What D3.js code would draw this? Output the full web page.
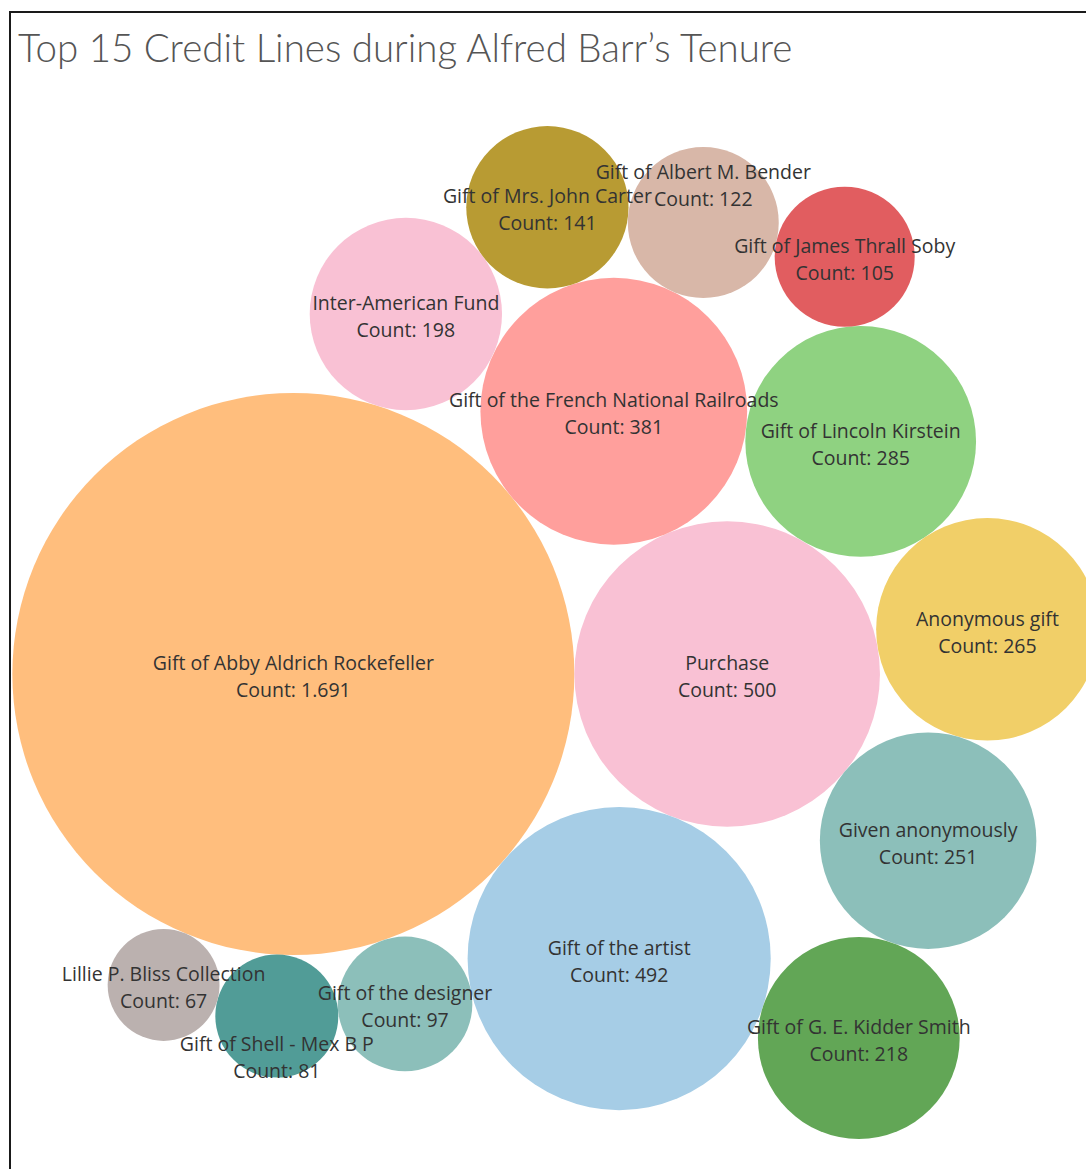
<!DOCTYPE html>
<html>
<head>
<meta charset="utf-8">
<script src="https://cdn.jsdelivr.net/npm/d3@7"></script>
<style>
  body { margin: 0; background: #fff; }
  svg { display: block; }
</style>
</head>
<body>
<svg id="chart" width="1086" height="1169"></svg>
<script>
// Credit lines, ordered by number of acquired works
const creditLines = [
  "Gift of Abby Aldrich Rockefeller",
  "Purchase",
  "Gift of the artist",
  "Gift of the French National Railroads",
  "Gift of Lincoln Kirstein",
  "Anonymous gift",
  "Given anonymously",
  "Gift of G. E. Kidder Smith",
  "Inter-American Fund",
  "Gift of Mrs. John Carter",
  "Gift of Albert M. Bender",
  "Gift of James Thrall Soby",
  "Gift of the designer",
  "Gift of Shell - Mex B P",
  "Lillie P. Bliss Collection"
];
const counts = [1691, 500, 492, 381, 285, 265, 251, 218, 198, 141, 122, 105, 97, 81, 67];
const bubbleColors = [
  "#FFBE7D", "#F9C1D4", "#A6CDE6", "#FF9F9C", "#8FD281",
  "#F1CF68", "#8CBFBA", "#62A656", "#F9C1D4", "#B89B33",
  "#D8B7A8", "#E15D60", "#8CBFBA", "#519C97", "#BBB1AF"
];
const title = "Top 15 Credit Lines during Alfred Barr\u2019s Tenure";

const svg = d3.select("#chart");

// Sheet frame
svg.append("rect")
  .attr("x", 10).attr("y", 12)
  .attr("width", 1200).attr("height", 1300)
  .attr("fill", "none")
  .attr("stroke", "#1a1a1a")
  .attr("stroke-width", 2);

svg.append("text")
  .attr("x", 18).attr("y", 62)
  .attr("font-family", "Lato, 'Open Sans', sans-serif")
  .attr("font-weight", 300)
  .attr("font-size", 38.5)
  .attr("fill", "#555")
  .text(title);

// Bubble area proportional to count
const radius = d3.scaleSqrt().domain([0, d3.max(counts)]).range([0, 281]);
const fmt = d3.formatLocale({ decimal: ",", thousands: ".", grouping: [3], currency: ["", ""] }).format(",d");

const nodes = counts.map((c, i) => ({
  name: creditLines[i],
  count: c,
  color: bubbleColors[i],
  r: radius(c)
}));

// Front-chain circle packing: each new circle is placed tangent to the
// chain circle nearest the origin and its predecessor (clockwise chain).
function place(a, b, c) {
  const dx = b.x - a.x, dy = b.y - a.y;
  const d = Math.hypot(dx, dy);
  const ra = a.r + c.r, rb = b.r + c.r;
  const x = (d * d + ra * ra - rb * rb) / (2 * d);
  const h = Math.sqrt(Math.max(0, ra * ra - x * x));
  const ux = dx / d, uy = dy / d;
  c.x = a.x + ux * x + uy * h;
  c.y = a.y + uy * x - ux * h;
}
function intersects(a, b) {
  const dr = a.r + b.r - 1e-6, dx = b.x - a.x, dy = b.y - a.y;
  return dr > 0 && dr * dr > dx * dx + dy * dy;
}
function packChain(circles) {
  const n = circles.length;
  const c0 = circles[0], c1 = circles[1], c2 = circles[2];
  c0.x = -c0.r; c0.y = 0;
  c1.x = c1.r; c1.y = 0;
  place(c1, c0, c2);
  let a = { _: c0 }, b = { _: c1 }, c = { _: c2 };
  a.next = b; b.next = c; c.next = a;
  a.previous = c; b.previous = a; c.previous = b;
  const nearest = () => {
    let best = a, bd = Infinity, node = a;
    do {
      const s = node._.x * node._.x + node._.y * node._.y;
      if (s < bd) { bd = s; best = node; }
      node = node.next;
    } while (node !== a);
    return best;
  };
  let m = nearest();
  b = m; a = m.previous;
  pack: for (let i = 3; i < n; ++i) {
    const circle = circles[i];
    place(a._, b._, circle);
    c = { _: circle };
    let j = b.next, k = a.previous, sj = b._.r, sk = a._.r;
    do {
      if (sj <= sk) {
        if (intersects(j._, circle)) {
          b = j; a.next = b; b.previous = a; --i;
          continue pack;
        }
        sj += j._.r; j = j.next;
      } else {
        if (intersects(k._, circle)) {
          a = k; a.next = b; b.previous = a; --i;
          continue pack;
        }
        sk += k._.r; k = k.previous;
      }
    } while (j !== k.next);
    c.previous = a; c.next = b; a.next = c; b.previous = c;
    a = c;
    m = nearest();
    b = m; a = m.previous;
  }
  return circles;
}
packChain(nodes);

const x0 = d3.min(nodes, d => d.x - d.r), x1 = d3.max(nodes, d => d.x + d.r);
const y0 = d3.min(nodes, d => d.y - d.r), y1 = d3.max(nodes, d => d.y + d.r);
const centerX = 555.5, centerY = 632.5;

const g = svg.append("g")
  .attr("transform", `translate(${centerX - (x0 + x1) / 2},${centerY - (y0 + y1) / 2})`);

g.append("g").selectAll("circle")
  .data(nodes)
  .join("circle")
  .attr("cx", d => d.x)
  .attr("cy", d => d.y)
  .attr("r", d => d.r)
  .attr("fill", d => d.color);

const fontSize = 19.5;
const lineOffsets = [-9, 18];
const lineHeight = 24;

const labels = g.append("g")
  .attr("font-family", "'Open Sans', sans-serif")
  .attr("font-size", fontSize)
  .attr("fill", "#333")
  .attr("text-anchor", "middle")
  .selectAll("g")
  .data(nodes)
  .join("g");

labels.append("text")
  .attr("class", "name")
  .attr("y", lineOffsets[0])
  .attr("dominant-baseline", "middle")
  .text(d => d.name);
labels.append("text")
  .attr("class", "count")
  .attr("y", lineOffsets[1])
  .attr("dominant-baseline", "middle")
  .text(d => "Count: " + fmt(d.count));

// Greedy label de-collision: larger bubbles keep their centred label,
// smaller ones slide outward (away from the pack centre) to the first free spot.
const packMidY = (y0 + y1) / 2;
const placed = [];
labels.each(function (d) {
  const widths = [
    d3.select(this).select(".name").node().getComputedTextLength(),
    d3.select(this).select(".count").node().getComputedTextLength()
  ];
  const boxesAt = dy => widths.map((w, i) => ({
    x0: d.x - w / 2, x1: d.x + w / 2,
    y0: d.y + dy + lineOffsets[i] - lineHeight / 2,
    y1: d.y + dy + lineOffsets[i] + lineHeight / 2
  }));
  const clear = boxes => boxes.every(b => placed.every(p =>
    b.x1 <= p.x0 || b.x0 >= p.x1 || b.y1 <= p.y0 || b.y0 >= p.y1));
  const dir = d.y < packMidY ? -1 : 1;
  let shift = 0;
  for (let s = 0; s < 300; s++) {
    if (clear(boxesAt(dir * s))) { shift = dir * s; break; }
    if (s > d.r && clear(boxesAt(-dir * s))) { shift = -dir * s; break; }
  }
  d.labelShift = shift;
  placed.push(...boxesAt(shift));
});
labels.attr("transform", d => `translate(${d.x},${d.y + d.labelShift})`);
</script>
</body>
</html>
